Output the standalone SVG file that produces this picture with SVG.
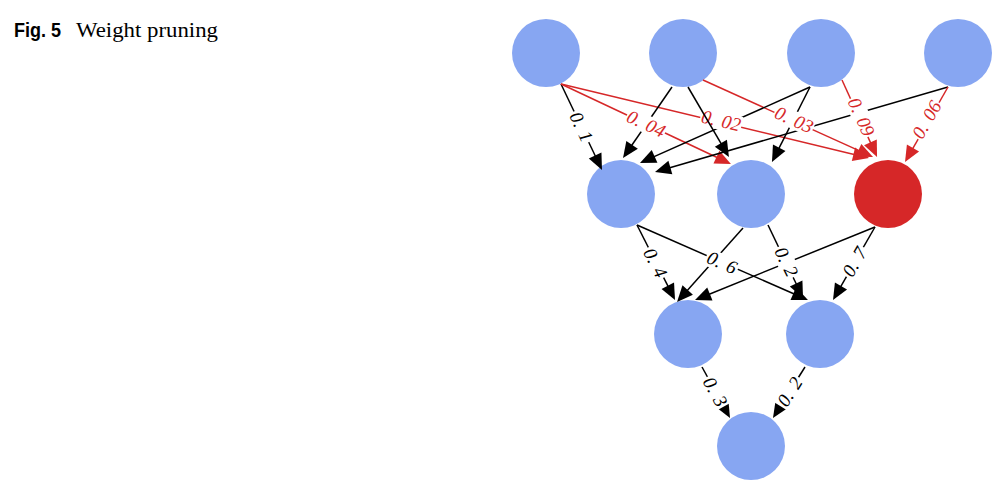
<svg xmlns="http://www.w3.org/2000/svg" width="998" height="485" viewBox="0 0 998 485">
<defs>
<marker id="ah" markerUnits="userSpaceOnUse" markerWidth="20" markerHeight="20" viewBox="-10 -10 20 20" refX="0" refY="0" orient="auto" overflow="visible"><path d="M10,0 L-6,-7 L-6,7 Z" fill="#000"/></marker>
<marker id="ahr" markerUnits="userSpaceOnUse" markerWidth="20" markerHeight="20" viewBox="-10 -10 20 20" refX="0" refY="0" orient="auto" overflow="visible"><path d="M10,0 L-6,-7 L-6,7 Z" fill="#d62728"/></marker>
</defs>
<style>
.n{fill:#87a6f2}
.nr{fill:#d62728}
.e{stroke:#000;stroke-width:1.5;fill:none;marker-end:url(#ah)}
.er{stroke:#d62728;stroke-width:1.5;fill:none;marker-end:url(#ahr)}
.lb{fill:#fff}
.lt{font-family:"Liberation Serif",serif;font-style:italic;font-size:19px;word-spacing:2px;text-anchor:middle;fill:#000}
.ltr{font-family:"Liberation Serif",serif;font-style:italic;font-size:19px;word-spacing:2px;text-anchor:middle;fill:#d62728}
</style>
<rect width="998" height="485" fill="#fff"/>
<g id="caption">
<text x="14" y="37" font-family="Liberation Sans,Arial,sans-serif" font-weight="bold" font-size="21" textLength="47" lengthAdjust="spacingAndGlyphs">Fig. 5</text>
<text x="76" y="37" font-family="Liberation Serif,serif" font-size="22" textLength="142" lengthAdjust="spacingAndGlyphs">Weight pruning</text>
</g>
<g id="nodes">
<g id="in1"><circle class="n" cx="546" cy="53" r="34"/></g>
<g id="in2"><circle class="n" cx="683" cy="53" r="34"/></g>
<g id="in3"><circle class="n" cx="821" cy="53" r="34"/></g>
<g id="in4"><circle class="n" cx="958" cy="53" r="34"/></g>
<g id="h1"><circle class="n" cx="621" cy="194" r="34"/></g>
<g id="h2"><circle class="n" cx="751" cy="194" r="34"/></g>
<g id="h3"><circle class="nr" cx="888" cy="194" r="34"/></g>
<g id="h4"><circle class="n" cx="688" cy="334" r="34"/></g>
<g id="h5"><circle class="n" cx="820" cy="334" r="34"/></g>
<g id="out"><circle class="n" cx="751" cy="446" r="34"/></g>
</g>
<g id="connectors">
<line class="e" x1="561" y1="84" x2="597.7" y2="161"/>
<line class="er" x1="561" y1="84" x2="721.9" y2="159.7"/>
<line class="er" x1="561" y1="84" x2="859.3" y2="155.7"/>
<line class="e" x1="672" y1="87" x2="628.7" y2="149.8"/>
<line class="er" x1="703" y1="80" x2="863.9" y2="152.9"/>
<line class="e" x1="810" y1="87" x2="649.1" y2="158.9"/>
<line class="e" x1="810" y1="87" x2="776.5" y2="153.1"/>
<line class="er" x1="842" y1="80" x2="872.9" y2="147.9"/>
<line class="e" x1="948" y1="87" x2="664.6" y2="169.2"/>
<line class="er" x1="948" y1="87" x2="910" y2="153.3"/>
<line class="e" x1="637" y1="225" x2="670.5" y2="291.1"/>
<line class="e" x1="637" y1="225" x2="798.8" y2="296"/>
<line class="e" x1="743" y1="228" x2="683.7" y2="294.5"/>
<line class="e" x1="768" y1="225" x2="798.7" y2="289"/>
<line class="e" x1="875" y1="227" x2="704.3" y2="296.2"/>
<line class="e" x1="875" y1="227" x2="838" y2="291.3"/>
<line class="e" x1="702" y1="367" x2="725.2" y2="409.2"/>
<line class="e" x1="805" y1="367" x2="778.3" y2="409.5"/>
<g id="labels">
<g transform="translate(581,127) rotate(64.5)"><rect class="lb" x="-17" y="-9" width="34" height="18"/><text class="lt" dy="6">0. 1</text></g>
<g transform="translate(646,124) rotate(25.2)"><rect class="lb" x="-21" y="-9" width="42" height="18"/><text class="ltr" dy="6">0. 04</text></g>
<g transform="translate(721,121) rotate(13.5)"><rect class="lb" x="-21" y="-9" width="42" height="18"/><text class="ltr" dy="6">0. 02</text></g>
<g transform="translate(794,120) rotate(24.4)"><rect class="lb" x="-21" y="-9" width="42" height="18"/><text class="ltr" dy="6">0. 03</text></g>
<g transform="translate(861,117) rotate(65.6)"><rect class="lb" x="-21" y="-9" width="42" height="18"/><text class="ltr" dy="6">0. 09</text></g>
<g transform="translate(927,120) rotate(-60.2)"><rect class="lb" x="-21" y="-9" width="42" height="18"/><text class="ltr" dy="6">0. 06</text></g>
<g transform="translate(655,263) rotate(63)"><rect class="lb" x="-17" y="-9" width="34" height="18"/><text class="lt" dy="6">0. 4</text></g>
<g transform="translate(722,263) rotate(23.7)"><rect class="lb" x="-17" y="-9" width="34" height="18"/><text class="lt" dy="6">0. 6</text></g>
<g transform="translate(786,262) rotate(64)"><rect class="lb" x="-17" y="-9" width="34" height="18"/><text class="lt" dy="6">0. 2</text></g>
<g transform="translate(855,262) rotate(-60)"><rect class="lb" x="-17" y="-9" width="34" height="18"/><text class="lt" dy="6">0. 7</text></g>
<g transform="translate(715,392) rotate(61)"><rect class="lb" x="-17" y="-9" width="34" height="18"/><text class="lt" dy="6">0. 3</text></g>
<g transform="translate(790,392) rotate(-58)"><rect class="lb" x="-17" y="-9" width="34" height="18"/><text class="lt" dy="6">0. 2</text></g>
</g>
<line class="e" x1="688" y1="87" x2="723.9" y2="148.4"/>
</g>
</svg>
